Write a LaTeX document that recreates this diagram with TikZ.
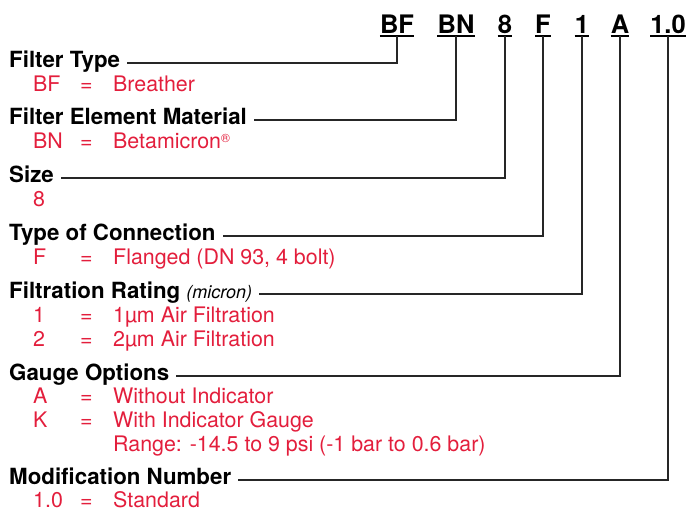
\documentclass[tikz,border=0pt]{standalone}
\usepackage{fontspec}
\setmainfont{TeX Gyre Heros}
\definecolor{codered}{HTML}{E31E3C}
\tikzset{
  head/.style={anchor=base west, inner sep=0pt, font=\bfseries\fontsize{22.3}{26}\selectfont},
  opt/.style={anchor=base west, inner sep=0pt, text=codered, font=\fontsize{21.4}{26}\selectfont},
  code/.style={anchor=base, inner sep=0pt, font=\bfseries\fontsize{25.5}{30}\selectfont},
  lead/.style={line width=1.3pt, black!85},
}
\begin{document}
\begin{tikzpicture}[x=1pt, y=-1pt]
    \useasboundingbox (0,0) rectangle (691,512);

    % ordering code, underlined
    \foreach \nm/\xx/\txt in {bf/397/BF, bn/456/BN, sz/505/8, cn/543/F, fr/582/1, go/620/A, mn/668/1.0}{
        \node[code] (\nm) at (\xx,33.5) {\txt};
        \draw[line width=1.8pt] ([yshift=-2.3pt]\nm.base west) -- ([yshift=-2.3pt]\nm.base east);
    }

    \node[head] (ftype) at (9,67) {Filter Type};
    \node[opt] (ftype-k) at (33,91) {BF};
    \node[opt] (ftype-e) at (80,91) {=};
    \node[opt] (ftype-v) at (113,91) {Breather};

    \node[head] (fmat) at (9,124) {Filter Element Material};
    \node[opt] (fmat-k) at (33,148) {BN};
    \node[opt] (fmat-e) at (80,148) {=};
    \node[opt] (fmat-v) at (113,148)
        {Betamicron\raisebox{6pt}{\fontsize{12}{12}\selectfont®}};

    \node[head] (fsize) at (9,182) {Size};
    \node[opt] (fsize-k) at (33,206) {8};

    \node[head] (fconn) at (9,240) {Type of Connection};
    \node[opt] (fconn-k) at (33,264) {F};
    \node[opt] (fconn-e) at (80,264) {=};
    \node[opt] (fconn-v) at (113,264) {Flanged (DN 93, 4 bolt)};

    \node[head] (frate) at (9,298)
        {Filtration Rating {\mdseries\itshape\fontsize{18}{22}\selectfont(micron)}};
    \node[opt] (frate-k1) at (33,322) {1};
    \node[opt] (frate-e1) at (80,322) {=};
    \node[opt] (frate-v1) at (113,322) {1µm Air Filtration};
    \node[opt] (frate-k2) at (33,346) {2};
    \node[opt] (frate-e2) at (80,346) {=};
    \node[opt] (frate-v2) at (113,346) {2µm Air Filtration};

    \node[head] (fgauge) at (9,380) {Gauge Options};
    \node[opt] (fgauge-k1) at (33,403) {A};
    \node[opt] (fgauge-e1) at (80,403) {=};
    \node[opt] (fgauge-v1) at (113,403) {Without Indicator};
    \node[opt] (fgauge-k2) at (33,427) {K};
    \node[opt] (fgauge-e2) at (80,427) {=};
    \node[opt] (fgauge-v2) at (113,427) {With Indicator Gauge};
    \node[opt] (fgauge-r) at (113,451) {Range: -14.5 to 9 psi (-1 bar to 0.6 bar)};

    \node[head] (fmod) at (9,484) {Modification Number};
    \node[opt] (fmod-k) at (33,507) {1.0};
    \node[opt] (fmod-e) at (80,507) {=};
    \node[opt] (fmod-v) at (113,507) {Standard};

    % leaders from code to heading
    \foreach \cd/\hd in {bf/ftype, bn/fmat, sz/fsize, cn/fconn, fr/frate, go/fgauge, mn/fmod}
        \draw[lead] ([yshift=-2.3pt]\cd.base) |- ([xshift=7pt,yshift=4pt]\hd.base east);
\end{tikzpicture}
\end{document}
